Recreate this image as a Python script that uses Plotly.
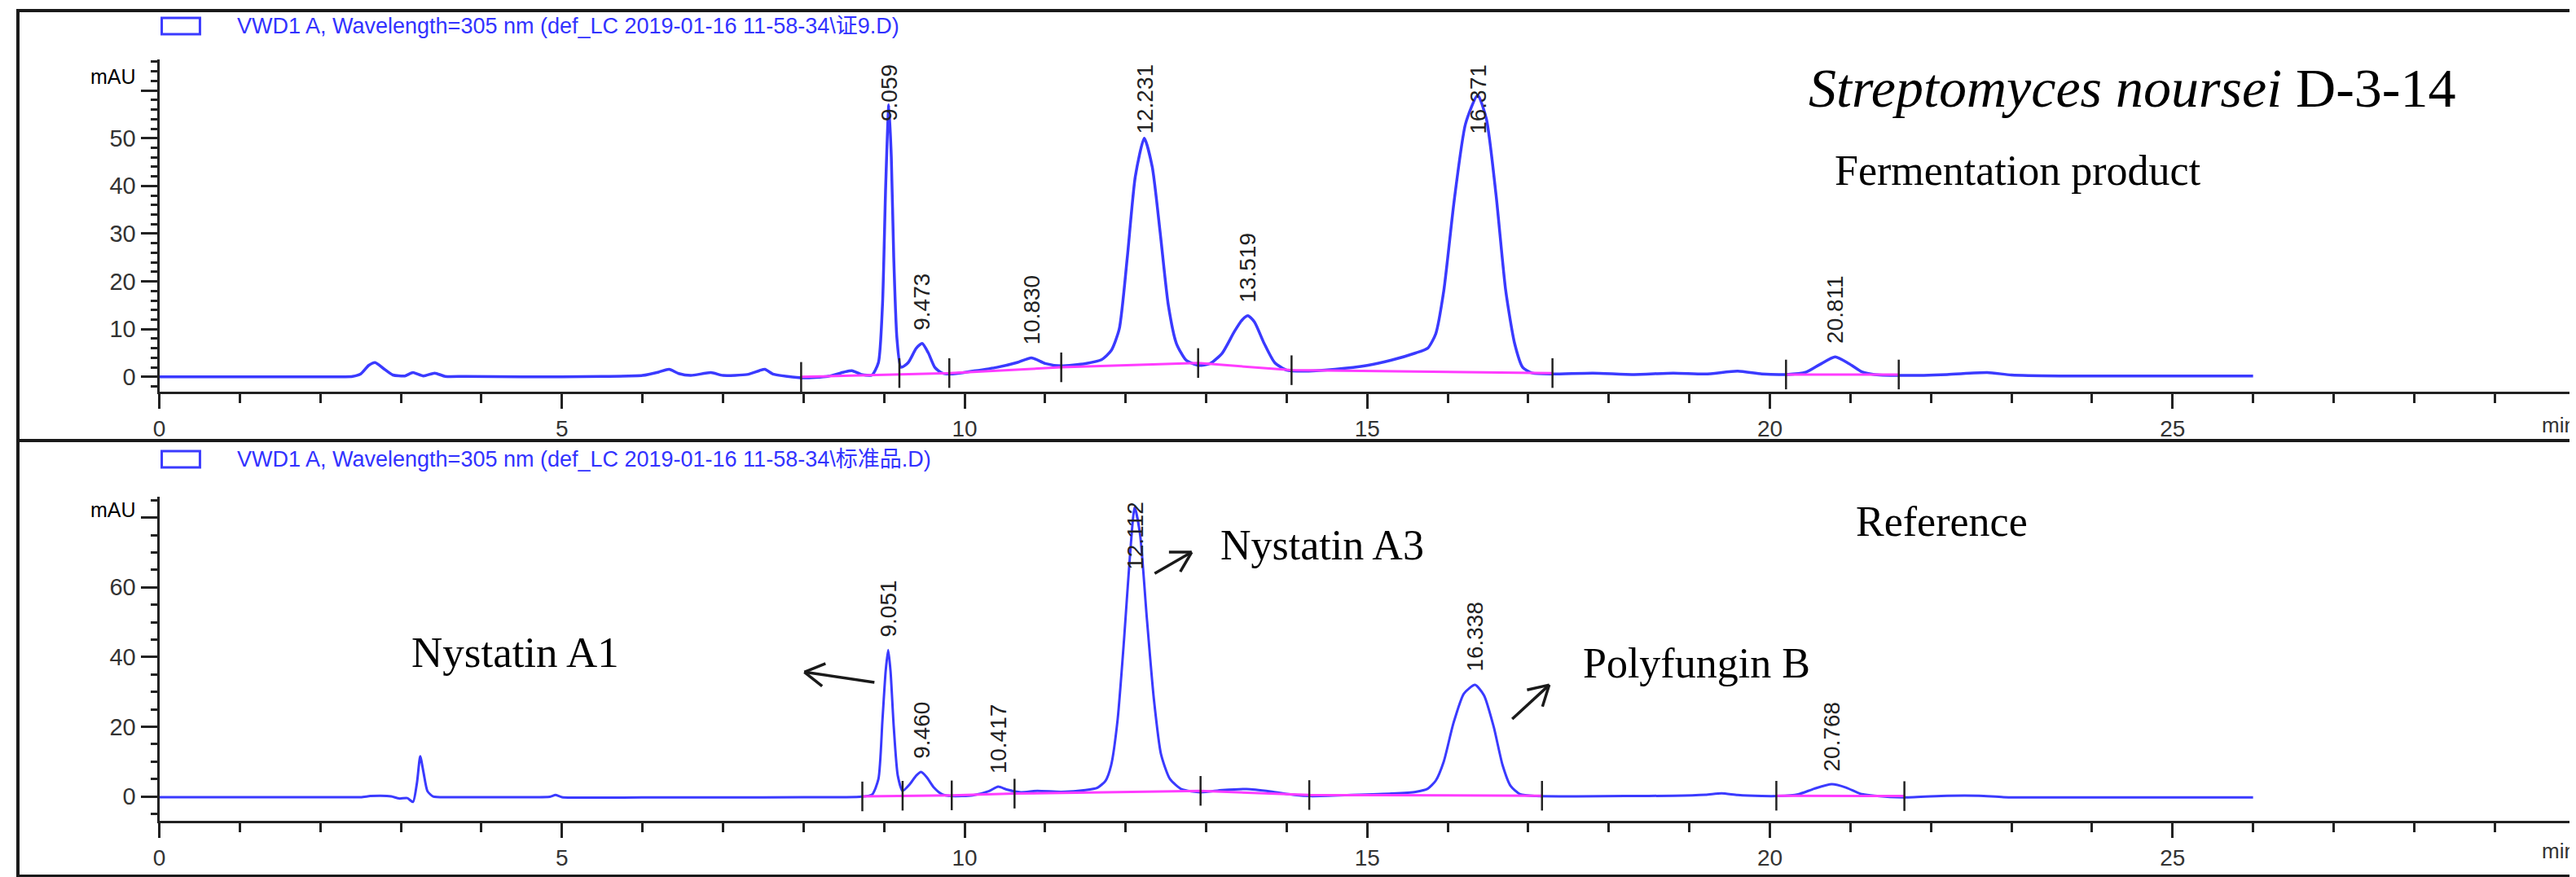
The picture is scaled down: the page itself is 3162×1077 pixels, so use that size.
import math
import plotly.graph_objects as go

W, H = 3162, 1077

# ---------------- data: fermentation product (top panel) ----------------
ferm_time = [0.0, 1.0, 2.0, 2.4, 2.5, 2.6, 2.68, 2.78, 2.9, 3.05, 3.15, 3.28, 3.42, 3.55, 3.8,
             4.5, 5.5, 6.0, 6.2, 6.33, 6.45, 6.6, 6.85, 7.0, 7.3, 7.45, 7.52, 7.62, 7.8, 8.0,
             8.3, 8.5, 8.6, 8.72, 8.85, 8.93, 8.98, 9.02, 9.059, 9.09, 9.12, 9.16, 9.21, 9.3,
             9.4, 9.473, 9.55, 9.63, 9.72, 9.85, 10.1, 10.4, 10.65, 10.83, 11.0, 11.2, 11.5,
             11.7, 11.82, 11.92, 12.02, 12.12, 12.231, 12.33, 12.43, 12.53, 12.63, 12.75, 12.9,
             13.05, 13.2, 13.35, 13.45, 13.519, 13.6, 13.72, 13.85, 14.0, 14.2, 14.6, 15.0,
             15.3, 15.6, 15.75, 15.85, 15.95, 16.08, 16.22, 16.371, 16.48, 16.6, 16.72, 16.83,
             16.93, 17.05, 17.3, 17.8, 18.3, 18.8, 19.2, 19.6, 19.9, 20.2, 20.45, 20.62, 20.811,
             20.98, 21.15, 21.3, 21.7, 22.2, 22.7, 23.0, 23.6, 26.0]
ferm_signal = [0.0, 0.0, 0.0, 0.1, 0.6, 2.4, 3.0, 1.8, 0.4, 0.2, 0.9, 0.2, 0.8, 0.1, 0.1,
               0.0, 0.1, 0.3, 1.0, 1.6, 0.7, 0.3, 0.9, 0.3, 0.5, 1.3, 1.6, 0.6, 0.1, -0.2,
               0.1, 1.0, 1.3, 0.5, 0.4, 3.0, 15.0, 40.0, 57.0, 46.0, 25.0, 8.0, 2.0, 3.0,
               6.0, 7.0, 5.0, 2.0, 0.8, 0.6, 1.2, 2.0, 3.0, 4.0, 2.8, 2.3, 2.8,
               3.6, 5.5, 10.0, 25.0, 42.0, 50.0, 44.0, 30.0, 15.0, 7.0, 3.5, 2.4,
               2.8, 5.0, 9.5, 12.0, 12.8, 11.5, 7.0, 3.0, 1.4, 1.2, 1.6, 2.4,
               3.5, 5.0, 6.0, 9.0, 18.0, 37.0, 53.0, 59.0, 54.0, 38.0, 18.0, 7.0,
               2.0, 0.8, 0.6, 0.8, 0.5, 0.8, 0.6, 1.2, 0.6, 0.5, 1.0, 2.6, 4.2,
               2.8, 1.0, 0.5, 0.3, 0.5, 0.9, 0.4, 0.2, 0.2]
ferm_base_time = [7.97, 9.81, 11.2, 12.9, 14.06, 17.3, None, 20.2, 21.6]
ferm_base_signal = [0.0, 0.8, 2.0, 2.9, 1.4, 0.8, None, 0.5, 0.5]
ferm_mark_time = [7.97, 9.19, 9.81, 11.2, 12.9, 14.06, 17.3, 20.2, 21.6]
ferm_mark_signal = [0.0, 0.8, 0.8, 2.0, 2.9, 1.4, 0.8, 0.5, 0.5]
ferm_peak_labels = ["9.059", "9.473", "10.830", "12.231", "13.519", "16.371", "20.811"]
ferm_peak_time = [9.059, 9.473, 10.83, 12.231, 13.519, 16.371, 20.811]
ferm_peak_height = [57.0, 7.0, 4.0, 50.0, 12.8, 59.0, 4.2]

# ---------------- data: reference standard (bottom panel) ----------------
ref_time = [0.0, 2.0, 2.5, 2.62, 2.75, 2.88, 2.98, 3.08, 3.15, 3.2, 3.24, 3.28, 3.33, 3.4, 3.6,
            4.5, 4.85, 4.92, 5.0, 6.0, 7.0, 8.0, 8.7, 8.85, 8.93, 8.98, 9.02, 9.051, 9.08,
            9.12, 9.17, 9.23, 9.32, 9.4, 9.46, 9.53, 9.62, 9.72, 9.84, 10.1, 10.3, 10.417,
            10.52, 10.7, 10.9, 11.2, 11.5, 11.65, 11.75, 11.82, 11.9, 11.98, 12.05, 12.112,
            12.18, 12.26, 12.35, 12.44, 12.55, 12.7, 12.93, 13.2, 13.5, 13.8, 14.1, 14.3,
            14.8, 15.3, 15.6, 15.75, 15.85, 15.95, 16.07, 16.2, 16.338, 16.45, 16.57, 16.68,
            16.78, 16.9, 17.1, 17.6, 18.2, 18.8, 19.2, 19.4, 19.6, 19.9, 20.1, 20.35, 20.55,
            20.768, 20.95, 21.12, 21.3, 21.67, 22.2, 22.6, 22.9, 23.5, 26.0]
ref_signal = [-0.2, -0.2, -0.2, 0.1, 0.2, 0.0, -0.6, -0.5, -1.6, 4.0, 11.5, 7.0, 1.5, 0.0, -0.2,
              -0.2, -0.1, 0.4, -0.2, -0.3, -0.3, -0.2, -0.1, 0.5, 5.0, 22.0, 36.0, 42.0, 36.0,
              20.0, 6.0, 1.6, 3.5, 6.0, 7.0, 5.5, 2.5, 0.6, 0.1, 0.3, 1.5, 2.8,
              2.0, 1.2, 1.6, 1.3, 1.8, 2.5, 4.5, 9.0, 22.0, 45.0, 68.0, 83.0,
              75.0, 52.0, 28.0, 12.0, 5.0, 2.0, 1.2, 1.8, 2.1, 1.4, 0.4, 0.1,
              0.4, 0.8, 1.3, 2.2, 4.5, 10.0, 21.0, 29.5, 32.0, 29.0, 20.0, 9.0,
              3.0, 0.6, 0.1, 0.0, 0.1, 0.2, 0.5, 0.9, 0.4, 0.1, 0.1, 0.6, 2.2,
              3.5, 2.5, 0.8, 0.2, -0.3, 0.2, 0.2, -0.2, -0.3, -0.3]
ref_base_time = [8.73, 9.23, 9.84, 10.62, 12.93, 14.28, 17.17, None, 20.08, 21.67]
ref_base_signal = [0.0, 0.2, 0.3, 0.8, 1.6, 0.4, 0.2, None, 0.2, 0.1]
ref_mark_time = [8.73, 9.23, 9.84, 10.62, 12.93, 14.28, 17.17, 20.08, 21.67]
ref_mark_signal = [0.0, 0.2, 0.3, 0.8, 1.6, 0.4, 0.2, 0.2, 0.1]
ref_peak_labels = ["9.051", "9.460", "10.417", "12.112", "16.338", "20.768"]
ref_peak_time = [9.051, 9.46, 10.417, 12.112, 16.338, 20.768]
ref_peak_height = [42.0, 7.0, 2.8, 83.0, 32.0, 3.5]

# compound arrows (bottom panel, tail -> head, in minutes / mAU)
arrow_tail_time = [8.88, 12.36, 16.80]
arrow_tail_mau = [32.7, 64.0, 22.2]
arrow_head_time = [8.01, 12.82, 17.26]
arrow_head_mau = [35.7, 70.1, 32.0]

x_ticks = [0, 5, 10, 15, 20, 25]
top_y_ticks = [0, 10, 20, 30, 40, 50, 60]
bot_y_ticks = [0, 20, 40, 60, 80]

legend_top = "VWD1 A, Wavelength=305 nm (def_LC 2019-01-16 11-58-34\\证9.D)"
legend_bot = "VWD1 A, Wavelength=305 nm (def_LC 2019-01-16 11-58-34\\标准品.D)"

# ---------------- layout geometry (pixels) ----------------
X0, X1 = 180, 3153
XR = [0, 30]
TOP_PX = (65, 473)       # (top, bottom) of upper plot area
BOT_PX = (602, 1000)     # (top, bottom) of lower plot area
TOP_R = [-3.1, 66.5]
BOT_R = [-7.0, 86.0]

BLUE = "rgb(58,58,255)"
MAGENTA = "rgb(255,60,255)"
DARK = "#222222"
SANS = "Liberation Sans, Arial, Noto Sans CJK SC, sans-serif"
SERIF = "Liberation Serif, Times New Roman, serif"


def px_x(t):
    return X0 + (t - XR[0]) / (XR[1] - XR[0]) * (X1 - X0)


def px_y(v, box, rng):
    return box[1] - (v - rng[0]) / (rng[1] - rng[0]) * (box[1] - box[0])


def paper(xp, yp):
    return xp / W, 1 - yp / H


fig = go.Figure()

# signals
fig.add_trace(go.Scatter(x=ferm_time, y=ferm_signal, mode="lines", xaxis="x", yaxis="y",
                         line=dict(color=BLUE, width=3.5, shape="spline", smoothing=0.6),
                         showlegend=False, hoverinfo="skip"))
fig.add_trace(go.Scatter(x=ferm_base_time, y=ferm_base_signal, mode="lines", xaxis="x", yaxis="y",
                         line=dict(color=MAGENTA, width=3), showlegend=False, hoverinfo="skip"))
fig.add_trace(go.Scatter(x=ferm_mark_time, y=ferm_mark_signal, mode="markers", xaxis="x", yaxis="y",
                         marker=dict(symbol="line-ns", size=26, line=dict(width=2.5, color=DARK)),
                         showlegend=False, hoverinfo="skip"))

fig.add_trace(go.Scatter(x=ref_time, y=ref_signal, mode="lines", xaxis="x2", yaxis="y2",
                         line=dict(color=BLUE, width=3, shape="spline", smoothing=0.6),
                         showlegend=False, hoverinfo="skip"))
fig.add_trace(go.Scatter(x=ref_base_time, y=ref_base_signal, mode="lines", xaxis="x2", yaxis="y2",
                         line=dict(color=MAGENTA, width=3), showlegend=False, hoverinfo="skip"))
fig.add_trace(go.Scatter(x=ref_mark_time, y=ref_mark_signal, mode="markers", xaxis="x2", yaxis="y2",
                         marker=dict(symbol="line-ns", size=26, line=dict(width=2.5, color=DARK)),
                         showlegend=False, hoverinfo="skip"))

annotations = []
shapes = []

# retention-time labels
LABEL_LEN = 88   # px length of a rotated label
LABEL_GAP = 14


def add_rt_labels(labels, times, heights, xref, yref, box, rng):
    for lab, t, h in zip(labels, times, heights):
        peak_px = px_y(h, box, rng)
        top_px = peak_px - LABEL_GAP - LABEL_LEN
        if top_px < box[0] + 4:
            annotations.append(dict(x=t, y=rng[1], xref=xref, yref=yref, text=lab,
                                    textangle=-90, showarrow=False, xanchor="center",
                                    yanchor="top", yshift=-4,
                                    font=dict(family=SANS, size=28, color=DARK)))
        else:
            annotations.append(dict(x=t, y=h, xref=xref, yref=yref, text=lab,
                                    textangle=-90, showarrow=False, xanchor="center",
                                    yanchor="bottom", yshift=LABEL_GAP,
                                    font=dict(family=SANS, size=28, color=DARK)))


add_rt_labels(ferm_peak_labels, ferm_peak_time, ferm_peak_height, "x", "y", TOP_PX, TOP_R)
add_rt_labels(ref_peak_labels, ref_peak_time, ref_peak_height, "x2", "y2", BOT_PX, BOT_R)


def text_px(xp, yp, text, size, family=SERIF, color="black", xanchor="left", yanchor="middle"):
    px_, py_ = paper(xp, yp)
    annotations.append(dict(x=px_, y=py_, xref="paper", yref="paper", text=text,
                            showarrow=False, xanchor=xanchor, yanchor=yanchor,
                            font=dict(family=family, size=size, color=color)))


# titles / compound names
text_px(2208, 100, "<i>Streptomyces noursei</i> D-3-14", 68)
text_px(2240, 201, "Fermentation product", 52)
text_px(2266, 632, "Reference", 52)
text_px(488, 793, "Nystatin A1", 53)
text_px(1484, 661, "Nystatin A3", 52)
text_px(1930, 806, "Polyfungin B", 52)

# axis unit labels
text_px(153, 86, "mAU", 25, family=SANS, xanchor="right")
text_px(153, 618, "mAU", 25, family=SANS, xanchor="right")
text_px(3110, 514, "min", 26, family=SANS, color="#333333")
text_px(3110, 1037, "min", 26, family=SANS, color="#333333")

# legends (icon + text)
for cy, txt in [(24, legend_top), (556, legend_bot)]:
    a = paper(183, cy - 10)
    b = paper(230, cy + 10)
    shapes.append(dict(type="rect", xref="paper", yref="paper", x0=a[0], y0=a[1], x1=b[0], y1=b[1],
                       line=dict(color=BLUE, width=3)))
    text_px(274, cy, txt, 27, family=SANS, color="rgb(50,50,255)")

# arrows (open V heads)
for tt, tv, ht, hv in zip(arrow_tail_time, arrow_tail_mau, arrow_head_time, arrow_head_mau):
    x0p, y0p = px_x(tt), px_y(tv, BOT_PX, BOT_R)
    x1p, y1p = px_x(ht), px_y(hv, BOT_PX, BOT_R)
    ang = math.atan2(y1p - y0p, x1p - x0p)
    segs = [((x0p, y0p), (x1p, y1p))]
    for d in (math.radians(150), math.radians(-150)):
        hx = x1p + 28 * math.cos(ang + d)
        hy = y1p + 28 * math.sin(ang + d)
        segs.append(((x1p, y1p), (hx, hy)))
    for (p, q) in segs:
        pa, qa = paper(*p), paper(*q)
        shapes.append(dict(type="line", xref="paper", yref="paper", x0=pa[0], y0=pa[1],
                           x1=qa[0], y1=qa[1], line=dict(color="#1a1a1a", width=3.5)))

# panel frames
for (ya, yb) in [(5, 533), (533, 1068)]:
    a = paper(6, ya)
    b = paper(3156, yb)
    shapes.append(dict(type="rect", xref="paper", yref="paper", x0=a[0], y0=b[1], x1=b[0], y1=a[1],
                       line=dict(color="#1a1a1a", width=4)))

xdom = [X0 / W, X1 / W]
common_x = dict(range=XR, domain=xdom, showline=True, linecolor=DARK, linewidth=3,
                ticks="outside", ticklen=18, tickwidth=3, tickcolor=DARK,
                tickmode="array", tickvals=x_ticks, ticktext=[str(v) for v in x_ticks],
                tickfont=dict(family=SANS, size=28, color="#333333"),
                minor=dict(tickmode="array", tickvals=list(range(1, 30)), ticklen=11,
                           tickwidth=2.5, tickcolor=DARK, ticks="outside"),
                showgrid=False, zeroline=False, fixedrange=True)

fig.update_layout(
    width=W, height=H,
    margin=dict(l=0, r=0, t=0, b=0),
    paper_bgcolor="white", plot_bgcolor="white",
    showlegend=False,
    xaxis=dict(anchor="y", **common_x),
    xaxis2=dict(anchor="y2", **common_x),
    yaxis=dict(anchor="x", range=TOP_R, domain=[1 - TOP_PX[1] / H, 1 - TOP_PX[0] / H],
               showline=True, linecolor=DARK, linewidth=3,
               ticks="outside", ticklen=20, tickwidth=3, tickcolor=DARK,
               tickmode="array", tickvals=top_y_ticks,
               ticktext=[str(v) if v <= 50 else "" for v in top_y_ticks],
               tickfont=dict(family=SANS, size=29, color="#333333"),
               minor=dict(tickmode="array", tickvals=[v for v in range(-2, 67, 2) if v % 10],
                          ticklen=8, tickwidth=2.5, tickcolor=DARK, ticks="outside"),
               showgrid=False, zeroline=False, fixedrange=True),
    yaxis2=dict(anchor="x2", range=BOT_R, domain=[1 - BOT_PX[1] / H, 1 - BOT_PX[0] / H],
                showline=True, linecolor=DARK, linewidth=3,
                ticks="outside", ticklen=20, tickwidth=3, tickcolor=DARK,
                tickmode="array", tickvals=bot_y_ticks,
                ticktext=[str(v) if v <= 60 else "" for v in bot_y_ticks],
                tickfont=dict(family=SANS, size=29, color="#333333"),
                minor=dict(tickmode="array", tickvals=[v for v in range(-5, 86, 5) if v % 20],
                           ticklen=8, tickwidth=2.5, tickcolor=DARK, ticks="outside"),
                showgrid=False, zeroline=False, fixedrange=True),
    annotations=annotations,
    shapes=shapes,
)

fig.write_html("out.html")
